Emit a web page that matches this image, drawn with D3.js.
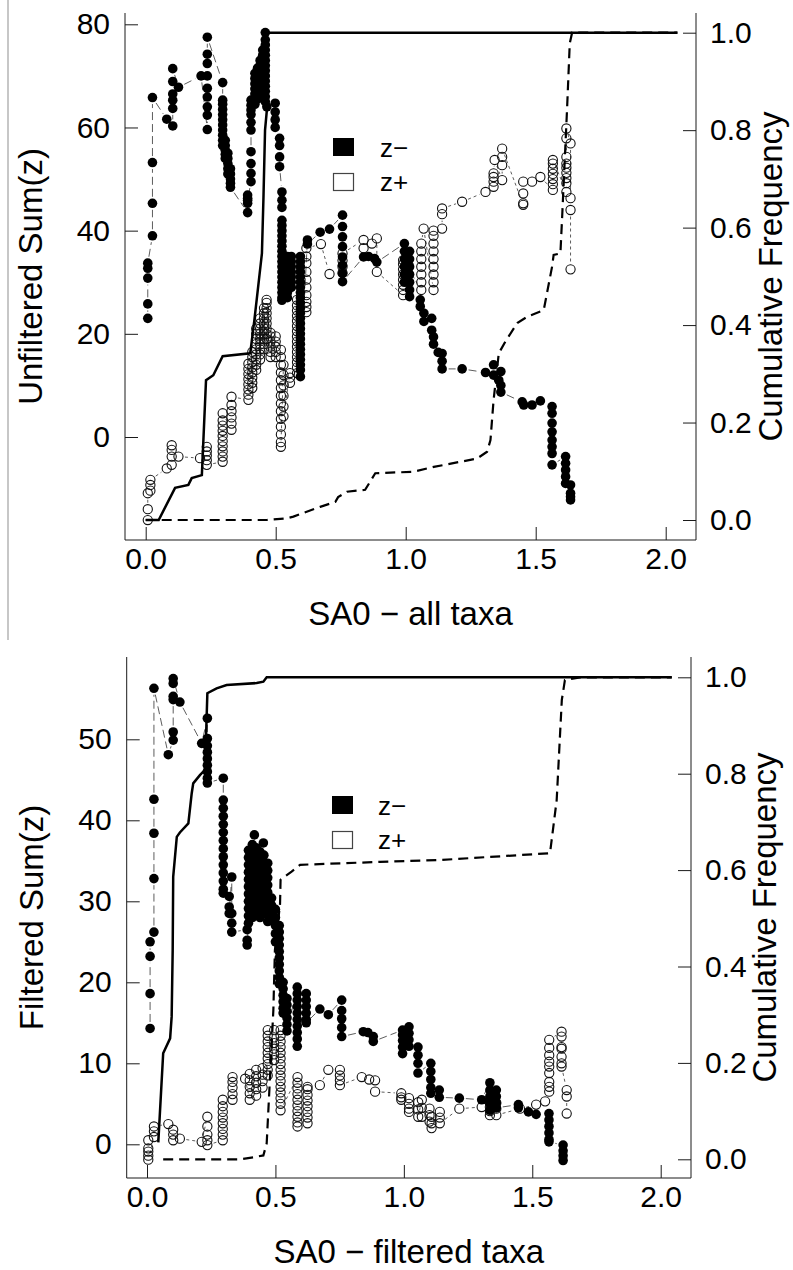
<!DOCTYPE html>
<html>
<head>
<meta charset="utf-8">
<script src="https://cdn.jsdelivr.net/npm/d3@7"></script>
<style>
  body { margin: 0; background: #fff; }
  svg { display: block; }
  text { font-family: "Liberation Sans", Arial, Helvetica, sans-serif; fill: #000; }
</style>
</head>
<body>
<svg id="fig" width="793" height="1270"></svg>
<script>
// ---------------------------------------------------------------
// Data. Each row: [SA0, sum(z) values of taxa sharing that SA0 ...]
// ---------------------------------------------------------------
const unfilteredNeg = [
  [0.008, 23.0, 25.8, 30.8, 32.7, 33.7],
  [0.026, 39.0, 45.3, 53.2, 65.8],
  [0.081, 61.6],
  [0.104, 60.3, 63.7, 65.3, 66.5, 68.9, 71.4],
  [0.126, 67.8],
  [0.213, 70.0],
  [0.237, 59.6, 62.4, 64.0, 65.9, 67.6, 70.0, 72.4, 74.2, 77.5],
  [0.296, 68.7, 65.3, 64.5, 63.5, 62.5, 61.5, 60.5, 59.5, 58.5, 57.5, 56.5],
  [0.306, 57.5, 56.5, 55.6, 54.8, 54.0],
  [0.316, 55.0, 54.0, 53.0, 52.0, 51.0],
  [0.326, 52.0, 51.0, 50.0, 49.2, 48.4],
  [0.392, 43.5, 45.3, 46.3, 46.9, 45.9],
  [0.405, 49.5, 51.1, 53.0, 55.3, 59.5, 61.0, 62.5, 63.4, 64.3, 65.3],
  [0.42, 64.5, 65.5, 66.5, 67.5, 68.5, 69.5, 70.5],
  [0.43, 65.5, 66.5, 67.5, 68.5, 69.5, 70.5, 71.5],
  [0.44, 66.0, 67.0, 68.0, 69.0, 70.0, 71.0, 72.0, 73.0],
  [0.45, 66.0, 67.0, 68.0, 69.0, 70.0, 71.0, 72.0, 73.0, 74.0, 75.0],
  [0.46, 65.0, 66.0, 67.0, 68.0, 69.0, 70.0, 71.0, 72.0, 73.0, 74.0, 75.0, 76.0, 77.0, 78.4],
  [0.466, 64.0],
  [0.498, 64.7, 63.0, 61.5, 60.0],
  [0.515, 57.9, 56.5, 54.3, 52.4],
  [0.524, 47.5, 45.9, 44.5, 42.0, 41.0, 40.0, 39.0, 38.0, 37.0, 36.0, 35.0, 34.0, 33.0, 32.0, 31.0, 30.0, 29.0, 28.0, 27.0, 26.5],
  [0.545, 35.0, 34.0, 33.0, 32.0, 31.0, 30.0, 29.0, 28.0, 27.0],
  [0.56, 35.0, 34.0, 33.0, 32.0, 31.0, 30.0, 29.0],
  [0.595, 35.0, 34.0, 33.0, 32.0, 31.0, 30.0, 29.0, 28.0, 27.0, 26.0, 25.0, 24.0, 23.0, 22.0, 21.0, 20.0, 19.0, 18.0, 17.0, 16.0, 15.0, 14.0, 13.0, 11.7],
  [0.622, 38.2, 37.4],
  [0.671, 39.7],
  [0.707, 40.3],
  [0.757, 43.0, 40.8, 38.8, 36.9, 34.9, 33.3, 31.7, 30.1],
  [0.838, 34.9],
  [0.857, 35.0],
  [0.88, 34.6],
  [0.889, 33.9],
  [0.995, 37.5, 36.0, 34.5, 33.0, 31.5, 30.0],
  [1.015, 36.0, 34.5, 33.0, 31.5, 30.0, 28.5, 27.2],
  [1.056, 26.6, 25.3],
  [1.07, 24.0, 22.4],
  [1.1, 23.0, 20.7],
  [1.107, 19.4, 18.0],
  [1.125, 16.4],
  [1.14, 16.2, 14.7, 13.2],
  [1.217, 13.2],
  [1.307, 12.5],
  [1.338, 14.0, 12.0],
  [1.358, 11.0],
  [1.366, 12.7, 10.0, 8.7],
  [1.448, 6.8],
  [1.454, 6.2],
  [1.486, 6.2],
  [1.518, 7.0],
  [1.563, 5.9, 4.6, 2.7, 1.0, -0.6, -1.9, -3.2, -5.4],
  [1.615, -3.8, -5.1, -6.4, -7.7, -9.0],
  [1.634, -9.3, -10.9, -11.6, -12.2]
];

const unfilteredPos = [
  [0.008, -16.1, -14.0, -10.9],
  [0.018, -10.4, -9.3, -8.3],
  [0.081, -6.1],
  [0.1, -5.4, -3.8, -2.5, -1.6],
  [0.126, -3.8],
  [0.209, -4.1],
  [0.235, -1.9, -2.8, -3.6, -4.5, -5.4],
  [0.296, -4.8, -3.8, -2.8, -1.8, -0.8, 0.2, 1.2, 2.2, 3.2, 4.6],
  [0.33, 1.4, 2.6, 3.8, 5.0, 6.2, 7.8],
  [0.395, 7.2, 8.2, 9.2, 10.2, 11.2, 12.2, 13.2, 14.2],
  [0.41, 9.5, 10.5, 11.5, 12.5, 13.5, 14.5, 15.5, 16.5],
  [0.425, 13.0, 14.0, 15.0, 16.0, 17.0, 18.0, 19.0, 20.0, 21.0],
  [0.44, 15.0, 16.0, 17.0, 18.0, 19.0, 20.0, 21.0, 22.0, 23.0],
  [0.455, 17.0, 18.0, 19.0, 20.0, 21.0, 22.0, 23.0, 24.0, 25.0],
  [0.465, 19.0, 20.0, 21.0, 22.0, 23.0, 24.0, 25.0, 26.0, 26.6],
  [0.48, 15.5, 16.5, 17.5, 18.5, 19.5, 20.2],
  [0.5, 15.5, 16.5, 17.5, 18.5, 19.5],
  [0.52, 16.9, 15.5, 14.0, 12.5, 11.0, 9.5, 8.0, 6.5, 5.0, 3.5, 2.0, 0.5, -1.0, -1.9],
  [0.53, 14.0, 12.0, 10.0, 8.0, 5.9, 4.0],
  [0.555, 12.4, 11.5, 10.5],
  [0.582, 12.4, 13.5, 14.5, 15.5, 16.5, 17.5, 18.5, 19.5, 20.5, 21.5, 22.5, 23.5, 24.5, 25.5, 26.6],
  [0.618, 24.2, 25.2, 26.2, 27.5, 29.0, 30.5, 32.0, 33.7, 35.0, 36.6],
  [0.674, 37.4],
  [0.707, 31.6],
  [0.757, 31.8, 33.0, 34.2, 35.6],
  [0.838, 38.2, 36.6],
  [0.87, 37.5],
  [0.889, 38.5, 32.0],
  [0.99, 27.5, 28.5, 29.5, 30.5, 31.5, 32.5, 33.5, 34.3],
  [1.06, 28.5, 30.0, 31.5, 33.0, 34.5, 36.0, 37.5],
  [1.069, 40.4],
  [1.107, 28.5, 30.0, 31.5, 33.0, 34.5, 36.0, 37.5, 39.0, 40.0],
  [1.14, 40.4, 43.2, 44.3],
  [1.217, 45.6],
  [1.307, 47.5],
  [1.338, 48.5, 49.5, 50.4, 51.1],
  [1.342, 53.7],
  [1.371, 49.8, 52.7, 54.3, 55.9],
  [1.452, 45.0, 45.3, 47.2, 49.5],
  [1.486, 49.5],
  [1.518, 50.4],
  [1.566, 47.9, 49.0, 50.0, 51.0, 52.0, 53.0, 53.7],
  [1.618, 47.5, 49.2, 50.2, 51.2, 52.2, 53.0, 54.3, 57.9, 59.8],
  [1.634, 56.9, 46.3, 44.0, 32.5]
];

const filteredNeg = [
  [0.012, 14.3, 18.6, 23.2, 25.0],
  [0.027, 26.2, 32.8, 38.4, 42.6, 56.3],
  [0.083, 48.1],
  [0.102, 49.9, 50.9, 54.9, 55.3, 56.9, 57.5],
  [0.128, 54.6],
  [0.213, 49.5],
  [0.235, 52.6, 50.1, 49.2, 48.4, 47.6, 46.8, 46.0, 45.2, 44.6],
  [0.297, 45.2, 42.5, 41.5, 40.5, 39.5, 38.5, 37.5, 36.5, 35.5, 34.5, 33.5, 32.5, 31.5, 31.0],
  [0.32, 30.6, 29.3, 28.5],
  [0.33, 33.0, 28.5, 27.3, 26.2],
  [0.39, 26.5, 25.2, 24.6],
  [0.395, 27.3, 28.2, 29.1, 30.0, 30.9, 31.8, 32.7, 33.6, 34.5, 35.4, 36.3],
  [0.41, 28.0, 28.9, 29.8, 30.7, 31.6, 32.5, 33.4, 34.3, 35.2, 36.1, 37.0],
  [0.418, 38.2],
  [0.425, 28.5, 29.4, 30.3, 31.2, 32.1, 33.0, 33.9, 34.8, 35.7, 36.6],
  [0.44, 28.0, 28.9, 29.8, 30.7, 31.6, 32.5, 33.4, 34.3, 35.2, 36.1],
  [0.453, 37.2],
  [0.455, 28.5, 29.4, 30.3, 31.2, 32.1, 33.0, 33.9, 34.8, 35.7],
  [0.47, 27.5, 28.4, 29.3, 30.2, 31.1, 32.0, 32.9, 33.8, 34.7],
  [0.485, 27.7, 28.6, 29.5, 30.4],
  [0.5, 29.0, 28.0, 27.0, 26.0, 25.0],
  [0.515, 27.0, 26.2, 25.4, 24.6, 23.8, 23.0, 22.2, 21.4, 20.6, 19.8],
  [0.53, 20.0, 19.2, 18.4, 17.6, 16.8, 16.2],
  [0.545, 18.0, 17.2, 16.4, 15.6, 14.8, 14.0],
  [0.585, 19.4, 18.6, 17.8, 17.0, 16.2, 15.4, 14.6, 13.8, 13.0, 12.1],
  [0.62, 18.6, 17.8, 17.0, 16.2, 15.4, 15.0],
  [0.673, 16.7],
  [0.706, 16.0],
  [0.758, 17.8, 16.5, 15.5, 14.4, 13.3],
  [0.842, 13.9],
  [0.86, 13.8],
  [0.881, 13.3, 12.7],
  [0.995, 14.1, 13.5, 12.8, 12.0, 11.2],
  [1.02, 14.5, 13.7, 12.9, 12.1],
  [1.055, 12.0, 11.0, 10.0, 8.8],
  [1.105, 10.0, 9.0, 8.0, 7.0, 6.3],
  [1.138, 6.7, 5.8],
  [1.216, 5.7],
  [1.303, 5.5],
  [1.335, 7.6, 6.7, 5.9, 5.1, 4.2],
  [1.36, 6.7, 5.9, 5.1, 4.5],
  [1.446, 4.9, 4.5],
  [1.485, 4.0],
  [1.515, 3.7],
  [1.565, 3.8, 3.0, 2.2, 1.4, 0.6, 0.3],
  [1.62, -0.1, -0.8, -1.4, -2.0]
];

const filteredPos = [
  [0.005, 0.5, -0.5, -0.9, -1.4, -1.9],
  [0.027, 0.9, 1.6, 2.2],
  [0.083, 2.5],
  [0.102, 1.8, 1.2, 0.5],
  [0.128, 0.7],
  [0.213, 0.3],
  [0.235, 3.4, 2.2, 1.2, 0.5, -0.1],
  [0.295, 0.5, 1.2, 1.9, 2.6, 3.3, 4.0, 4.7, 5.5],
  [0.333, 5.5, 6.2, 7.0, 7.7, 8.3],
  [0.382, 8.1],
  [0.4, 5.5, 6.3, 7.1, 7.9, 8.7],
  [0.425, 6.0, 6.8, 7.6, 8.4, 9.2],
  [0.45, 7.0, 7.8, 8.6, 9.4],
  [0.47, 8.5, 9.2, 9.9, 10.6, 11.3, 12.0, 12.7, 13.4, 14.1],
  [0.495, 10.4, 11.1, 11.8, 12.5, 13.2, 14.1],
  [0.52, 14.1, 13.4, 12.7, 12.0, 11.3, 10.6, 9.9, 9.2, 8.5, 7.8, 7.1, 6.4, 5.7, 5.0, 4.2],
  [0.586, 8.3, 7.6, 6.9, 6.2, 5.5, 4.8, 4.1, 3.4, 2.7, 2.2],
  [0.625, 2.6, 3.3, 4.0, 4.7, 5.4, 6.1, 6.8, 7.1],
  [0.673, 7.3],
  [0.706, 9.2],
  [0.751, 9.2, 8.5, 7.9, 7.3],
  [0.836, 8.3],
  [0.865, 8.0],
  [0.888, 7.9, 6.5],
  [0.99, 6.3, 5.8, 5.5],
  [1.02, 5.7, 5.0, 4.4, 4.0],
  [1.056, 5.2, 4.3, 3.4],
  [1.07, 5.5, 4.5, 3.4],
  [1.1, 4.4, 3.6, 2.8],
  [1.108, 3.4, 2.6, 2.0],
  [1.14, 4.0, 3.3, 2.6],
  [1.216, 4.4],
  [1.303, 4.6],
  [1.335, 5.1, 4.6, 4.1, 3.6],
  [1.36, 5.1, 4.4, 3.6],
  [1.452, 4.4],
  [1.515, 4.9],
  [1.55, 5.3],
  [1.566, 6.5, 7.1, 7.7, 8.8, 9.6, 10.2, 11.0, 11.9, 12.9],
  [1.614, 13.9, 13.3, 12.0, 11.8, 10.8, 10.0, 9.6],
  [1.634, 6.7, 5.9, 3.8]
];

// Cumulative frequency of SA0, as [SA0, cumulative fraction]
const unfilteredNegCdf = [
  [0, 0], [0.05, 0], [0.113, 0.066], [0.164, 0.072], [0.177, 0.086], [0.216, 0.092],
  [0.232, 0.287], [0.26, 0.297], [0.296, 0.336], [0.402, 0.342], [0.418, 0.41],
  [0.447, 0.547], [0.453, 0.663], [0.459, 0.80], [0.466, 0.841], [0.466, 1.0], [2.045, 1.0]
];
const unfilteredPosCdf = [
  [0, 0], [0.466, 0], [0.543, 0.0035], [0.568, 0.007], [0.671, 0.027], [0.729, 0.037],
  [0.74, 0.047], [0.774, 0.058], [0.844, 0.062], [0.883, 0.096], [1.03, 0.099],
  [1.108, 0.109], [1.274, 0.126], [1.313, 0.14], [1.326, 0.164], [1.338, 0.246],
  [1.358, 0.342], [1.383, 0.366], [1.429, 0.404], [1.467, 0.417], [1.531, 0.431],
  [1.563, 0.52], [1.569, 0.544], [1.595, 0.547], [1.602, 0.625], [1.621, 0.848],
  [1.631, 0.978], [1.64, 1.0], [2.045, 1.0]
];
const filteredNegCdf = [
  [0.044, 0.035], [0.063, 0.22], [0.09, 0.251], [0.096, 0.296], [0.1, 0.434],
  [0.102, 0.586], [0.116, 0.669], [0.128, 0.678], [0.161, 0.697], [0.174, 0.759],
  [0.18, 0.78], [0.206, 0.797], [0.226, 0.808], [0.235, 0.967], [0.271, 0.977],
  [0.31, 0.984], [0.427, 0.988], [0.453, 0.991], [0.466, 1.0], [2.043, 1.0]
];
const filteredPosCdf = [
  [0.063, 0], [0.362, 0], [0.414, 0.004], [0.453, 0.008], [0.466, 0.033], [0.479, 0.171],
  [0.492, 0.31], [0.498, 0.434], [0.518, 0.53], [0.52, 0.58], [0.563, 0.597],
  [0.596, 0.611], [0.907, 0.617], [1.141, 0.621], [1.569, 0.635], [1.595, 0.745],
  [1.615, 0.953], [1.627, 0.994], [1.686, 1.0], [2.043, 1.0]
];

// Tick values
const sa0Ticks = [0, 0.5, 1, 1.5, 2];
const freqTicks = [0, 0.2, 0.4, 0.6, 0.8, 1];
const unfilteredSumTicks = [0, 20, 40, 60, 80];
const filteredSumTicks = [0, 10, 20, 30, 40, 50];
const legendLabels = ["z\u2212", "z+"];

// ---------------------------------------------------------------
// Layout of the two panels
// ---------------------------------------------------------------
const panels = [
  {
    neg: unfilteredNeg, pos: unfilteredPos, negCdf: unfilteredNegCdf, posCdf: unfilteredPosCdf,
    sumTicks: unfilteredSumTicks, sumDomain: [0, 80], sumRange: [437, 24.3],
    xRange: [145.7, 665.7], freqRange: [520, 32.7],
    box: { left: 125, right: 696, top: 13, bottom: 540 },
    leftTitle: "Unfiltered Sum(z)", xTitle: "SA0 \u2212 all taxa",
    leftTitleX: 42, rightTitleX: 782, xTitleY: 625,
    legend: { x: 333, y: 138, textX: 380 }
  },
  {
    neg: filteredNeg, pos: filteredPos, negCdf: filteredNegCdf, posCdf: filteredPosCdf,
    sumTicks: filteredSumTicks, sumDomain: [0, 50], sumRange: [1144.3, 739.3],
    xRange: [147, 660.7], freqRange: [1159.3, 677.3],
    box: { left: 126.7, right: 691, top: 657, bottom: 1178 },
    leftTitle: "Filtered Sum(z)", xTitle: "SA0 \u2212 filtered taxa",
    leftTitleX: 43, rightTitleX: 776, xTitleY: 1263,
    legend: { x: 332, y: 796, textX: 378 }
  }
];

const svg = d3.select("#fig");
svg.append("rect").attr("width", 793).attr("height", 1270).attr("fill", "#fff");

// thin rule at the left edge of the upper figure
svg.append("line").attr("x1", 8).attr("x2", 8).attr("y1", 0).attr("y2", 640)
  .attr("stroke", "#b5b5b5").attr("stroke-width", 1.5);

const ink = "#1a1a1a";
const tickFont = 30, titleFont = 33;

// Split a polyline into per-segment pieces that stop short of the points
function gappedSegments(pts, gap) {
  const segs = [];
  for (let i = 0; i < pts.length - 1; i++) {
    const [x1, y1] = pts[i], [x2, y2] = pts[i + 1];
    const dx = x2 - x1, dy = y2 - y1, d = Math.hypot(dx, dy);
    if (d <= 2 * gap) continue;
    const ux = dx / d, uy = dy / d;
    segs.push([[x1 + ux * gap, y1 + uy * gap], [x2 - ux * gap, y2 - uy * gap]]);
  }
  return segs;
}

function expandRows(rows) {
  return rows.flatMap(r => r.slice(1).map(v => [r[0], v]));
}

function drawPanel(p) {
  const g = svg.append("g");
  const b = p.box;
  const x = d3.scaleLinear().domain([0, 2]).range(p.xRange);
  const y = d3.scaleLinear().domain(p.sumDomain).range(p.sumRange);
  const yF = d3.scaleLinear().domain([0, 1]).range(p.freqRange);

  // left, bottom and right frame
  g.append("path")
    .attr("d", `M${b.left},${b.top}V${b.bottom}H${b.right}V${b.top}`)
    .attr("fill", "none").attr("stroke", ink).attr("stroke-width", 1);

  const styleAxis = sel => {
    sel.select(".domain").remove();
    sel.attr("font-size", tickFont).attr("font-family", "'Liberation Sans', Arial, sans-serif");
    sel.selectAll(".tick line").attr("stroke", ink).attr("stroke-width", 1);
    sel.selectAll(".tick text").attr("fill", "#000");
  };

  g.append("g").attr("transform", `translate(0,${b.bottom})`)
    .call(d3.axisBottom(x).tickValues(sa0Ticks).tickFormat(d3.format(".1f"))
      .tickSizeInner(-13).tickSizeOuter(0).tickPadding(8))
    .call(styleAxis);

  g.append("g").attr("transform", `translate(${b.left},0)`)
    .call(d3.axisLeft(y).tickValues(p.sumTicks).tickFormat(d3.format("d"))
      .tickSizeInner(-13).tickSizeOuter(0).tickPadding(15))
    .call(styleAxis);

  g.append("g").attr("transform", `translate(${b.right},0)`)
    .call(d3.axisRight(yF).tickValues(freqTicks).tickFormat(d3.format(".1f"))
      .tickSizeInner(-13).tickSizeOuter(0).tickPadding(14))
    .call(styleAxis);

  // titles
  g.append("text").attr("x", (b.left + b.right) / 2).attr("y", p.xTitleY)
    .attr("text-anchor", "middle").attr("font-size", titleFont).text(p.xTitle);
  g.append("text")
    .attr("transform", `translate(${p.leftTitleX},${(b.top + b.bottom) / 2}) rotate(-90)`)
    .attr("text-anchor", "middle").attr("font-size", titleFont).text(p.leftTitle);
  g.append("text")
    .attr("transform", `translate(${p.rightTitleX},${(b.top + b.bottom) / 2}) rotate(-90)`)
    .attr("text-anchor", "middle").attr("font-size", titleFont).text("Cumulative Frequency");

  const negPts = expandRows(p.neg).map(d => [x(d[0]), y(d[1])]);
  const posPts = expandRows(p.pos).map(d => [x(d[0]), y(d[1])]);

  // connecting lines (type "b": broken around each point)
  const segLine = (pts, dash) => {
    g.append("g").selectAll("line").data(gappedSegments(pts, 6.5)).join("line")
      .attr("x1", s => s[0][0]).attr("y1", s => s[0][1])
      .attr("x2", s => s[1][0]).attr("y2", s => s[1][1])
      .attr("stroke", "#333").attr("stroke-width", 0.8)
      .attr("stroke-dasharray", dash);
  };
  segLine(posPts, "3,3");
  segLine(negPts, "8,4");

  // z+ : open circles
  g.append("g").selectAll("circle").data(posPts).join("circle")
    .attr("cx", d => d[0]).attr("cy", d => d[1]).attr("r", 4.6)
    .attr("fill", "none").attr("stroke", "#111").attr("stroke-width", 1.1);

  // z- : filled circles
  g.append("g").selectAll("circle").data(negPts).join("circle")
    .attr("cx", d => d[0]).attr("cy", d => d[1]).attr("r", 4.8)
    .attr("fill", "#000");

  // cumulative frequency curves
  const cdfLine = d3.line().x(d => x(d[0])).y(d => yF(d[1]));
  g.append("path").datum(p.posCdf).attr("d", cdfLine)
    .attr("fill", "none").attr("stroke", "#000").attr("stroke-width", 2.2)
    .attr("stroke-dasharray", "10,6");
  g.append("path").datum(p.negCdf).attr("d", cdfLine)
    .attr("fill", "none").attr("stroke", "#000").attr("stroke-width", 2.5);

  // legend
  const L = p.legend;
  g.append("rect").attr("x", L.x).attr("y", L.y).attr("width", 21).attr("height", 18)
    .attr("fill", "#000");
  g.append("rect").attr("x", L.x + 0.5).attr("y", L.y + 35.5).attr("width", 20).attr("height", 17)
    .attr("fill", "#fff").attr("stroke", "#444").attr("stroke-width", 1.2);
  g.append("text").attr("x", L.textX).attr("y", L.y + 19).attr("font-size", 26).text(legendLabels[0]);
  g.append("text").attr("x", L.textX).attr("y", L.y + 53).attr("font-size", 26).text(legendLabels[1]);
}

panels.forEach(drawPanel);
</script>
</body>
</html>
